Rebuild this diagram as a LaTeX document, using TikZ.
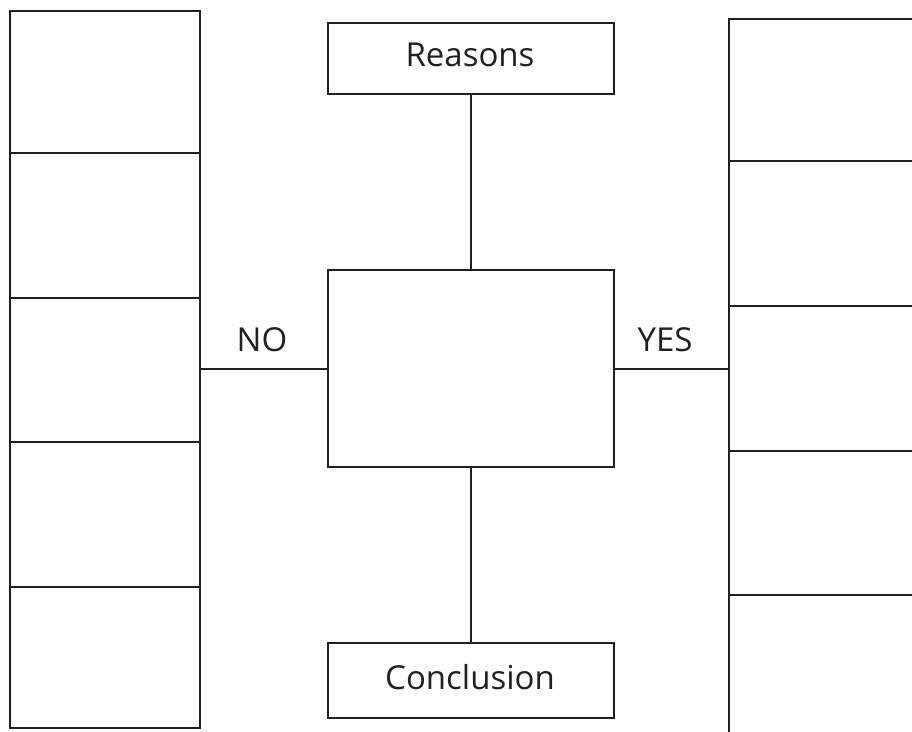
\documentclass[tikz,border=0pt]{standalone}
\usepackage{fontspec}
\setmainfont{Open Sans}
\definecolor{ink}{HTML}{231F20}
\begin{document}
\begin{tikzpicture}[x=1pt,y=-1pt,
  cell/.style={draw=ink,line width=2pt,inner sep=0pt,anchor=north west},
  lbl/.style={text=ink,font=\fontsize{33}{40}\selectfont,inner sep=0pt},
  link/.style={draw=ink,line width=2pt}]
\useasboundingbox (0,0) rectangle (912,731);
\clip (0,0) rectangle (912,731);
% left column
\node[cell,minimum width=190pt,minimum height=142pt] (l1) at (9,10) {};
\node[cell,minimum width=190pt,minimum height=145pt] (l2) at (9,152) {};
\node[cell,minimum width=190pt,minimum height=144pt] (l3) at (9,297) {};
\node[cell,minimum width=190pt,minimum height=145pt] (l4) at (9,441) {};
\node[cell,minimum width=190pt,minimum height=141pt] (l5) at (9,586) {};
% right column (open to the right and bottom)
\node[cell,minimum width=220pt,minimum height=142pt] (r1) at (728,18) {};
\node[cell,minimum width=220pt,minimum height=145pt] (r2) at (728,160) {};
\node[cell,minimum width=220pt,minimum height=145pt] (r3) at (728,305) {};
\node[cell,minimum width=220pt,minimum height=144pt] (r4) at (728,450) {};
\node[cell,minimum width=220pt,minimum height=160pt] (r5) at (728,594) {};
% centre
\node[cell,minimum width=286pt,minimum height=71pt] (reasons) at (327,22) {};
\node[lbl] (reasonsT) at (470,55) {Reasons};
\node[cell,minimum width=286pt,minimum height=197pt] (mid) at (327,269) {};
\node[cell,minimum width=286pt,minimum height=75pt] (concl) at (327,642) {};
\node[lbl] (conclT) at (470,677) {Conclusion};
\node[lbl] (no) at (262,340) {NO};
\node[lbl] (yes) at (665,340) {YES};
% connectors
\draw[link] (reasons.south) -- (mid.north);
\draw[link] (mid.south) -- (concl.north);
\draw[link] (mid.west |- 0,369) -- (l3.east |- 0,369);
\draw[link] (mid.east |- 0,369) -- (r3.west |- 0,369);
\end{tikzpicture}
\end{document}
